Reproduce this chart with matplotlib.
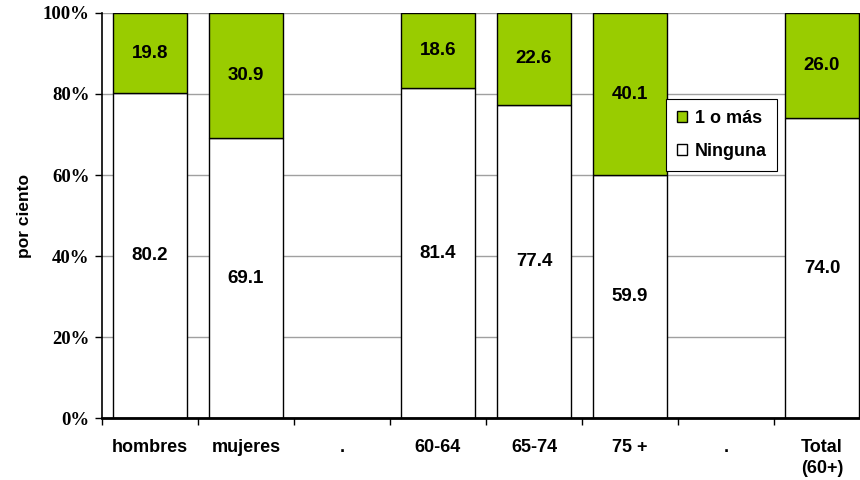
import numpy as np
import matplotlib.pyplot as plt

categorias = ['hombres', 'mujeres', '.', '60-64', '65-74', '75 +', '.', 'Total\n(60+)']
ninguna = [80.2, 69.1, np.nan, 81.4, 77.4, 59.9, np.nan, 74.0]
uno_o_mas = [19.8, 30.9, np.nan, 18.6, 22.6, 40.1, np.nan, 26.0]
yticks = [0, 20, 40, 60, 80, 100]

verde = '#99cc00'

fig = plt.figure(figsize=(8.6, 4.8), dpi=100)
ax = fig.add_axes([0.1186, 0.129, 0.893, 0.844])

x = np.arange(len(categorias))
ax.bar(x, ninguna, width=0.77, color='white', edgecolor='black', linewidth=1, label='Ninguna', zorder=2)
ax.bar(x, uno_o_mas, width=0.77, bottom=ninguna, color=verde, edgecolor='black', linewidth=1,
       label='1 o más', zorder=2)

# etiquetas de valores
for i in range(len(categorias)):
    if np.isnan(ninguna[i]):
        continue
    ax.text(x[i], ninguna[i] / 2, f'{ninguna[i]:.1f}', ha='center', va='center',
            fontsize=13.5, fontweight='bold', family='Liberation Sans', zorder=3)
    ax.text(x[i], ninguna[i] + uno_o_mas[i] / 2, f'{uno_o_mas[i]:.1f}', ha='center', va='center',
            fontsize=13.5, fontweight='bold', family='Liberation Sans', zorder=3)

ax.set_xlim(-0.5, len(categorias) - 0.5)
ax.set_ylim(0, 100)
ax.set_yticks(yticks)
ax.set_yticklabels([f'{v}%' for v in yticks], family='Liberation Serif', fontweight='bold', fontsize=13.5)
ax.yaxis.grid(True, color='#a0a0a0', linewidth=1, zorder=0)
ax.set_axisbelow(True)

ax.set_xticks(np.arange(len(categorias) + 1) - 0.5)
ax.set_xticklabels([])
ax.set_xticks(x, minor=True)
ax.set_xticklabels(categorias, minor=True, family='Liberation Sans', fontweight='bold', fontsize=13,
                   linespacing=1.35)
ax.tick_params(axis='x', which='minor', length=0, pad=15)
ax.tick_params(axis='x', which='major', length=5, width=1)
ax.tick_params(axis='y', length=5, width=1, pad=4)

ax.set_ylabel('por ciento', family='Liberation Sans', fontweight='bold', fontsize=12.5, labelpad=8)

ax.spines['top'].set_visible(False)
ax.spines['right'].set_visible(False)
ax.spines['bottom'].set_linewidth(2)
ax.spines['left'].set_linewidth(1.2)

handles, labels = ax.get_legend_handles_labels()
leg = ax.legend(handles[::-1], labels[::-1], loc='upper left', bbox_to_anchor=(0.734, 0.788),
                borderaxespad=0,
                prop={'family': 'Liberation Sans', 'weight': 'bold', 'size': 13},
                fancybox=False, edgecolor='black', framealpha=1, handlelength=0.6, handleheight=0.6,
                handletextpad=0.4, labelspacing=0.9, borderpad=0.6)
leg.get_frame().set_linewidth(0.8)

fig.savefig('out.png', dpi=100)
